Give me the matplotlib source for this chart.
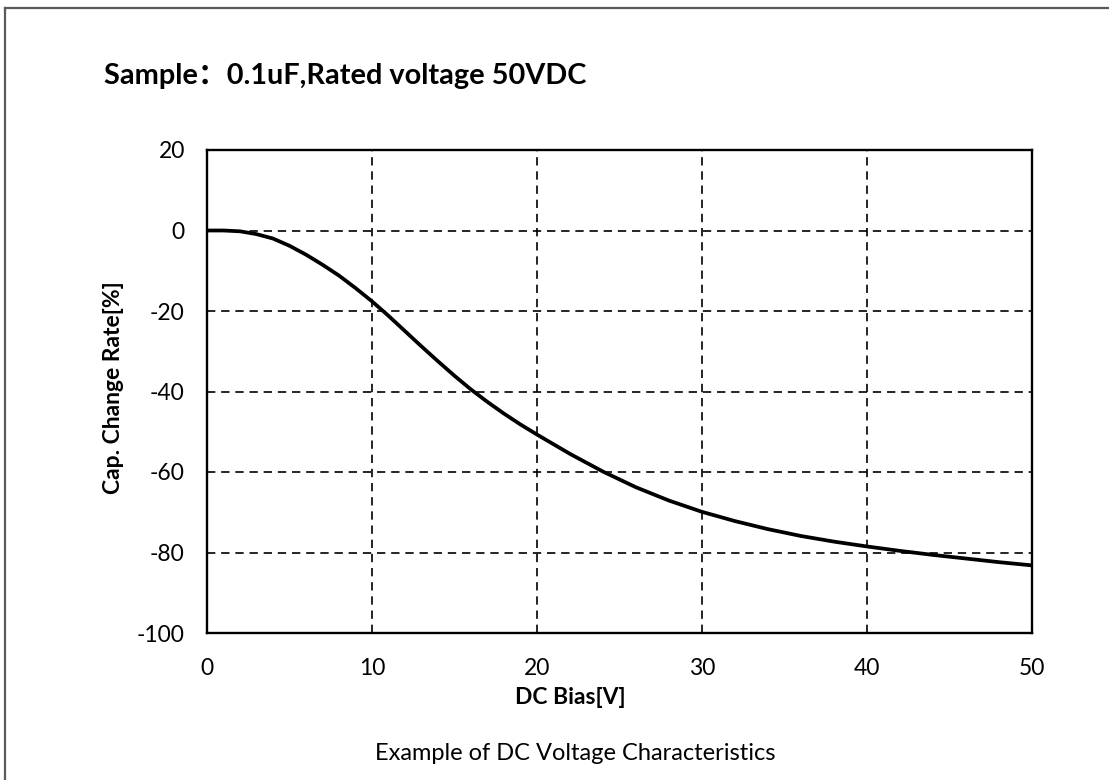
import matplotlib
matplotlib.use("Agg")
import matplotlib.pyplot as plt
from matplotlib.lines import Line2D

# DC bias curve
bias_v = [0, 1, 2, 3, 4, 5, 6, 7, 8, 9, 10, 11, 12, 13, 14, 15, 16, 17, 18, 19, 20,
          22, 24, 26, 28, 30, 32, 34, 36, 38, 40, 42, 44, 46, 48, 50]
cap_change = [0, 0, -0.2, -0.9, -2.0, -3.8, -6.0, -8.5, -11.2, -14.3, -17.6, -21.2,
              -25.0, -28.8, -32.5, -36.1, -39.5, -42.6, -45.5, -48.2, -50.7,
              -55.5, -59.9, -63.8, -67.1, -69.9, -72.2, -74.2, -75.9, -77.3, -78.5,
              -79.6, -80.6, -81.5, -82.4, -83.2]
x_ticks = [0, 10, 20, 30, 40, 50]
y_ticks = [20, 0, -20, -40, -60, -80, -100]

title = "Sample\uff1a0.1uF,Rated voltage 50VDC"
xlabel = "DC Bias[V]"
ylabel = "Cap. Change Rate[%]"
caption = "Example of DC Voltage Characteristics"

plt.rcParams["font.family"] = ["Lato", "Noto Sans CJK SC", "DejaVu Sans"]
plt.rcParams["axes.unicode_minus"] = False

W, H = 1109, 780
fig = plt.figure(figsize=(W / 100, H / 100), dpi=100)
ax = fig.add_axes([207 / W, 1 - 633 / H, (1032 - 207) / W, (633 - 150) / H])

ax.plot(bias_v, cap_change, color="black", linewidth=2.7, solid_joinstyle="round")

ax.set_xlim(0, 50)
ax.set_ylim(-100, 20)
ax.set_xticks(x_ticks)
ax.set_yticks(y_ticks)
ax.tick_params(length=0, labelsize=16.5)
ax.tick_params(axis="x", pad=18)
ax.tick_params(axis="y", pad=16)

ax.grid(True, color="black", linestyle=(0, (5, 3.5)), linewidth=1.2)
for s in ax.spines.values():
    s.set_linewidth(1.7)
    s.set_color("black")

ax.set_xlabel(xlabel, fontsize=16.5, fontweight="bold")
ax.xaxis.set_label_coords((570 - 207) / 825, (633 - 697) / 483)
ax.set_ylabel(ylabel, fontsize=16.5, fontweight="bold")
ax.yaxis.set_label_coords((113 - 207) / 825, (633 - 388) / 483)
ax.xaxis.label.set_va("center")
ax.yaxis.label.set_va("center")

fig.text(104 / W, 1 - 84 / H, title, fontsize=20.8, fontweight="bold",
         ha="left", va="baseline")
fig.text(575 / W, 1 - 753 / H, caption, fontsize=17, ha="center", va="center")

# outer frame (top and left edges only)
frame_c = "#5a5a5a"
fig.add_artist(Line2D([5 / W, 1.0], [1 - 8 / H, 1 - 8 / H],
                      transform=fig.transFigure, color=frame_c, linewidth=1.6))
fig.add_artist(Line2D([5 / W, 5 / W], [1 - 8 / H, 0.0],
                      transform=fig.transFigure, color=frame_c, linewidth=1.6))

fig.savefig("out.png", dpi=100)
